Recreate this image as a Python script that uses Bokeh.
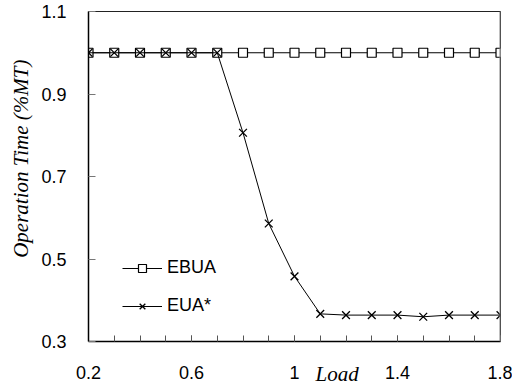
import math
from bokeh.plotting import figure
from bokeh.models import (ColumnDataSource, FixedTicker, CustomJSTickFormatter, Legend,
                          LegendItem, Span, Title)
from bokeh.embed import file_html
from bokeh.resources import INLINE

# ---- data ----
load = [0.2, 0.3, 0.4, 0.5, 0.6, 0.7, 0.8, 0.9, 1.0, 1.1, 1.2, 1.3, 1.4, 1.5, 1.6, 1.7, 1.8]
ebua = [1.0] * 17
eua_star = [1.0, 1.0, 1.0, 1.0, 1.0, 1.0, 0.806, 0.586, 0.458, 0.367,
            0.364, 0.364, 0.364, 0.360, 0.364, 0.364, 0.364]
x_tick_labels = [0.2, 0.6, 1.0, 1.4, 1.8]
x_minor = [0.2, 0.3, 0.4, 0.5, 0.6, 0.7, 0.8, 0.9, 1.0, 1.1, 1.2, 1.3, 1.4, 1.5, 1.6, 1.7, 1.8]
y_tick_labels = [0.3, 0.5, 0.7, 0.9, 1.1]
x_title = "Load"
y_title = "Operation Time (%MT)"

W, H = 512, 386
BL, BR, BT, BB = 86, 12, 11, 45

p = figure(width=W, height=H, x_range=(0.2, 1.8), y_range=(0.3, 1.1),
           output_backend="svg", toolbar_location=None,
           min_border_left=BL, min_border_right=BR, min_border_top=BT, min_border_bottom=BB)
p.xgrid.visible = False
p.ygrid.visible = False
p.background_fill_color = "white"
p.border_fill_color = "white"
p.outline_line_color = "#222222"
p.outline_line_width = 1

src = ColumnDataSource(dict(x=load, ebua=ebua, eua=eua_star))

l1 = p.line("x", "ebua", source=src, line_color="black", line_width=1)
m1 = p.scatter("x", "ebua", source=src, marker="square", size=9,
               fill_color="white", line_color="black", line_width=1.2)
l2 = p.line("x", "eua", source=src, line_color="black", line_width=1)
m2 = p.scatter("x", "eua", source=src, marker="x", size=11,
               line_color="black", line_width=1.3)

p.add_layout(Span(location=1.8, dimension="height", line_color="#808080", line_width=2))

font = "Liberation Sans"
xa = p.xaxis[0]
xa.ticker = FixedTicker(ticks=x_tick_labels, minor_ticks=x_minor)
xa.formatter = CustomJSTickFormatter(code="return Math.abs(tick-1)<1e-9 ? '1' : tick.toFixed(1);")
xa.major_tick_in = 6
xa.major_tick_out = 0
xa.minor_tick_in = 6
xa.minor_tick_out = 0
xa.major_tick_line_color = "#555555"
xa.minor_tick_line_color = "#555555"
xa.axis_line_color = "black"
xa.axis_line_width = 1.5
xa.major_label_text_font = font
xa.major_label_text_font_size = "18px"
xa.major_label_text_color = "black"
xa.major_label_standoff = 24

ya = p.yaxis[0]
ya.ticker = FixedTicker(ticks=y_tick_labels, minor_ticks=[])
ya.major_tick_in = 7
ya.major_tick_out = 0
ya.major_tick_line_color = "#777777"
ya.axis_line_color = "black"
ya.axis_line_width = 1.5
ya.major_label_text_font = font
ya.major_label_text_font_size = "18px"
ya.major_label_text_color = "black"
ya.major_label_standoff = 22

# y-axis title (rotated), its top end placed below the frame top
ytitle = Title(text=y_title, align="right", offset=48,
               text_font="Liberation Serif", text_font_style="italic",
               text_font_size="21px", text_color="black", standoff=12)
p.add_layout(ytitle, "left")

# x-axis title, pulled up into the tick-label row
xtitle = Title(text=x_title, align="left", offset=227, vertical_align="top",
               text_font="Liberation Serif", text_font_style="italic",
               text_font_size="21px", text_color="black", standoff=-40)
p.add_layout(xtitle, "below")

legend = Legend(items=[LegendItem(label="EBUA", renderers=[l1, m1]),
                       LegendItem(label="EUA*", renderers=[l2, m2])],
                location=(34, 25), orientation="vertical")
legend.border_line_color = None
legend.background_fill_alpha = 0
legend.padding = 0
legend.margin = 0
legend.spacing = 17
legend.glyph_width = 40
legend.glyph_height = 20
legend.label_height = 20
legend.label_standoff = 5
legend.label_text_font = font
legend.label_text_font_size = "18px"
legend.label_text_color = "black"
p.add_layout(legend)

open("out.html", "w").write(file_html(p, INLINE))
